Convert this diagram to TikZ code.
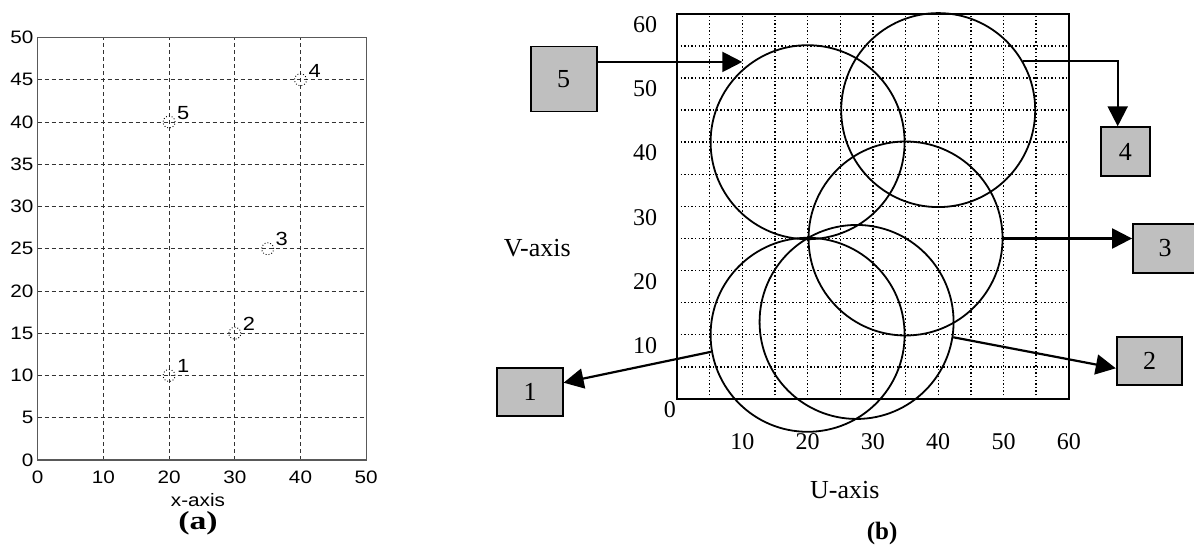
\documentclass[tikz,border=0pt]{standalone}
\usepackage{fontspec}
\setmainfont{Liberation Serif}
\setsansfont{Liberation Sans}
\newfontfamily\plotfont[FakeStretch=1.15]{Liberation Sans}
\newfontfamily\capfontA[FakeStretch=1.3]{Liberation Serif}
\usepackage{tikz}
\usetikzlibrary{arrows.meta, positioning, calc}

\begin{document}
\begin{tikzpicture}[x=0.5pt, y=0.5pt,
  gridA/.style={dashed, dash pattern=on 2pt off 1.5pt, line width=0.45pt, black!80},
  frameA/.style={line width=0.6pt, black!65},
  gridB/.style={dash pattern=on 0.7pt off 1.1pt, line width=0.7pt, black},
  frameB/.style={line width=0.9pt},
  ticka/.style={font=\plotfont\fontsize{9}{11}\selectfont, inner sep=1pt},
  tickb/.style={font=\fontsize{12}{14}\selectfont, inner sep=0pt},
  axislbl/.style={font=\fontsize{13}{15}\selectfont},
  probe/.style={circle, draw, densely dotted, line width=0.45pt, minimum size=6pt, inner sep=0pt},
  ptlabel/.style={font=\plotfont\fontsize{9.5}{11}\selectfont, inner sep=0pt, anchor=south west},
  ring/.style={circle, draw, line width=0.9pt, minimum size=97pt, inner sep=0pt},
  cell/.style={rectangle, draw, line width=0.9pt, fill=gray!50, inner sep=0pt,
               font=\fontsize{13}{15}\selectfont},
  arr/.style={-{Triangle[length=10pt, width=10pt]}, line width=1.1pt},
]
  \useasboundingbox (0,0) rectangle (1194,546);

  % (a) positions in the x-y plane
  \begin{scope}[shift={(37.7,86)}, x=3.285pt, y=4.225pt]
    \foreach \i in {10,20,30,40} \draw[gridA] (\i,0) -- (\i,50);
    \foreach \j in {5,10,...,45} \draw[gridA] (0,\j) -- (50,\j);
    \draw[frameA] (0,0) rectangle (50,50);
    \foreach \i in {0,10,...,50} \node[ticka] (xa\i) at (\i,-2) {\i};
    \foreach \j in {0,5,...,50} \node[ticka, anchor=east] (ya\j) at (-0.3,\j) {\j};
    \node[ticka] (xname) at (24.4,-4.7) {x-axis};
    \node[font=\capfontA\bfseries\fontsize{13}{15}\selectfont] (capa) at (24.4,-7.5) {(a)};

    \node[probe] (p1) at (20,10) {};
    \node[probe] (p2) at (30,15) {};
    \node[probe] (p3) at (35,25) {};
    \node[probe] (p4) at (40,45) {};
    \node[probe] (p5) at (20,40) {};
    \foreach \k in {1,...,5}
      \node[ptlabel] (n\k) at ([shift={(3.8pt,1.1pt)}]p\k.center) {\k};
  \end{scope}

  % (b) circles in the U-V plane
  \begin{scope}[shift={(677,147)}, x=3.265pt, y=3.21pt]
    \foreach \i in {5,10,...,55} \draw[gridB] (\i,0) -- (\i,60);
    \foreach \j in {5,10,...,55} \draw[gridB] (0,\j) -- (60,\j);
    \draw[frameB] (0,0) rectangle (60,60);
    \foreach \j in {10,20,...,60} \node[tickb] (yb\j) at (-4.9,{\j-1.7}) {\j};
    \node[tickb] (yb0) at (-1.1,-1.7) {0};
    \foreach \i in {10,20,...,60} \node[tickb] (xb\i) at (\i,-6.7) {\i};
    \node[axislbl] (vname) at (-21.4,23.5) {V-axis};
    \node[axislbl] (uname) at (25.7,-14.2) {U-axis};
    \node[font=\bfseries\fontsize{12.5}{14}\selectfont] (capb) at (31.4,-20.9) {(b)};

    \node[ring] (c1) at (20,10) {};
    \node[ring] (c2) at (27.5,12) {};
    \node[ring] (c3) at (35,25) {};
    \node[ring] (c4) at (40,45) {};
    \node[ring] (c5) at (20,40) {};
    \coordinate (t5) at (10,52.5);
  \end{scope}

  \node[cell, minimum width=33pt, minimum height=32.5pt] (b5) at (563.7,467) {5};
  \node[cell, minimum width=24.5pt, minimum height=24.5pt] (b4) at (1125.3,394.3) {4};
  \node[cell, minimum width=32pt, minimum height=24.5pt] (b3) at (1165,297.5) {3};
  \node[cell, minimum width=32.8pt, minimum height=24.2pt] (b2) at (1149.5,185) {2};
  \node[cell, minimum width=32.7pt, minimum height=24pt] (b1) at (530,154.3) {1};

  \draw[arr] (b5.east |- t5) -- (t5);
  \draw[arr] (c4.30) -| ([xshift=-3.8pt]b4.north);
  \draw[arr] (c3.east) -- (c3.east -| b3.west);
  \draw[arr] (c2.-9) -- ([yshift=-3.65pt]b2.west);
  \draw[arr] (c1.190) -- ([yshift=4.5pt]b1.east);
\end{tikzpicture}
\end{document}
